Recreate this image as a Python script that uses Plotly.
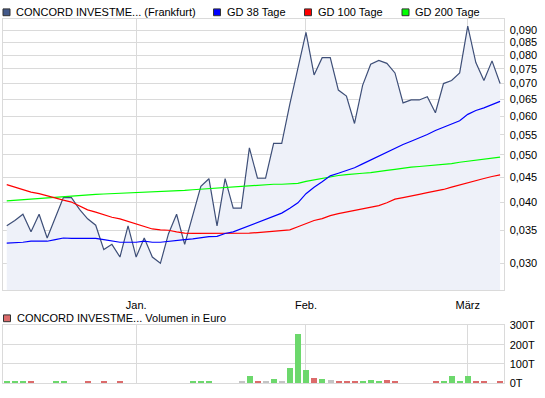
import math
import pandas as pd
import plotly.graph_objects as go

# ---------------- data ----------------
holidays = ["2010-12-24", "2010-12-31"]
dates = [d.strftime("%Y-%m-%d") for d in
         pd.bdate_range("2010-12-08", "2011-03-07", freq="C", holidays=holidays)]

price = [0.0358, 0.0367, 0.0378, 0.0348, 0.0378, 0.0338, 0.0372, 0.0409, 0.0409, 0.0387,
         0.0370, 0.0359, 0.0320, 0.0328, 0.0309, 0.0358, 0.0309, 0.0338, 0.0309, 0.0300,
         0.0345, 0.0378, 0.0328, 0.0378, 0.0431, 0.0447, 0.0358, 0.0447, 0.0389, 0.0389,
         0.0517, 0.0448, 0.0448, 0.0528, 0.0528, 0.0635, 0.0757, 0.0891, 0.0729, 0.0791,
         0.0791, 0.0679, 0.0660, 0.0580, 0.0694, 0.0767, 0.0781, 0.0770, 0.0736, 0.0639,
         0.0648, 0.0648, 0.0658, 0.0610, 0.0700, 0.0710, 0.0736, 0.0918, 0.0773, 0.0710,
         0.0779, 0.0700]

gd38 = [0.03298, 0.03303, 0.03313, 0.03329, 0.03329, 0.03329, 0.03354, 0.03380, 0.03375, 0.03375,
        0.03375, 0.03375, 0.03354, 0.03334, 0.03313, 0.03313, 0.03313, 0.03329, 0.03313, 0.03313,
        0.03329, 0.03344, 0.03354, 0.03365, 0.03385, 0.03401, 0.03406, 0.03453, 0.03479, 0.03533,
        0.03587, 0.03631, 0.03687, 0.03744, 0.03801, 0.03890, 0.03990, 0.04165, 0.04295, 0.04407,
        0.04531, 0.04586, 0.04649, 0.04706, 0.04793, 0.04882, 0.04988, 0.05079, 0.05157, 0.05253,
        0.05334, 0.05416, 0.05507, 0.05609, 0.05695, 0.05774, 0.05872, 0.06054, 0.06166, 0.06241,
        0.06337, 0.06435]

gd100 = [0.04348, 0.04295, 0.04255, 0.04197, 0.04165, 0.04121, 0.04072, 0.04040, 0.04004, 0.03924,
         0.03860, 0.03819, 0.03772, 0.03727, 0.03699, 0.03653, 0.03604, 0.03565, 0.03527, 0.03511,
         0.03506, 0.03479, 0.03458, 0.03453, 0.03453, 0.03453, 0.03453, 0.03453, 0.03453, 0.03453,
         0.03458, 0.03468, 0.03479, 0.03495, 0.03495, 0.03511, 0.03565, 0.03620, 0.03670, 0.03704,
         0.03755, 0.03790, 0.03819, 0.03842, 0.03878, 0.03907, 0.03937, 0.03990, 0.04060, 0.04090,
         0.04128, 0.04153, 0.04185, 0.04211, 0.04249, 0.04295, 0.04341, 0.04394, 0.04428, 0.04475,
         0.04516, 0.04551]

gd200 = [0.04028, 0.04040, 0.04053, 0.04065, 0.04072, 0.04078, 0.04090, 0.04109, 0.04115, 0.04128,
         0.04140, 0.04153, 0.04159, 0.04165, 0.04172, 0.04178, 0.04185, 0.04191, 0.04197, 0.04204,
         0.04211, 0.04223, 0.04230, 0.04243, 0.04255, 0.04269, 0.04282, 0.04295, 0.04308, 0.04321,
         0.04328, 0.04335, 0.04348, 0.04355, 0.04355, 0.04361, 0.04374, 0.04414, 0.04448, 0.04482,
         0.04516, 0.04538, 0.04558, 0.04565, 0.04586, 0.04600, 0.04629, 0.04649, 0.04671, 0.04700,
         0.04721, 0.04735, 0.04750, 0.04765, 0.04787, 0.04801, 0.04830, 0.04852, 0.04874, 0.04904,
         0.04927, 0.04949]

volume = [6000, 6000, 6000, 6000, 0, 0, 6000, 10000, 0, 0,
          6000, 0, 6000, 0, 6000, 0, 0, 0, 0, 0,
          0, 0, 0, 6000, 6000, 10000, 0, 0, 0, 6000,
          35000, 10000, 6000, 20000, 10000, 75000, 255000, 65000, 25000, 20000,
          15000, 10000, 6000, 10000, 6000, 15000, 10000, 15000, 10000, 0,
          0, 0, 0, 6000, 10000, 35000, 6000, 35000, 6000, 6000,
          0, 6000]

# direction of each day's volume bar: g = up, r = down, n = unchanged
vol_dir = ["g", "g", "g", "r", "n", "n", "g", "g", "n", "n",
           "r", "n", "r", "n", "r", "n", "n", "n", "n", "n",
           "n", "n", "n", "g", "g", "g", "n", "n", "n", "n",
           "g", "r", "n", "g", "n", "g", "g", "g", "r", "g",
           "n", "r", "r", "r", "g", "g", "g", "r", "r", "n",
           "n", "n", "n", "r", "g", "g", "g", "g", "r", "r",
           "n", "r"]

month_ticks = ["2011-01-03", "2011-02-01", "2011-03-01"]
month_labels = ["Jan.", "Feb.", "März"]
price_ticks = [0.030, 0.035, 0.040, 0.045, 0.050, 0.055, 0.060, 0.065,
               0.070, 0.075, 0.080, 0.085, 0.090]
vol_ticks = [0, 100000, 200000, 300000]
vol_labels = ["0T", "100T", "200T", "300T"]

names = ["CONCORD INVESTME... (Frankfurt)", "GD 38 Tage", "GD 100 Tage", "GD 200 Tage"]
vol_title = "CONCORD INVESTME... Volumen in Euro"

# ---------------- style ----------------
W, H = 545, 398
FONT = "Liberation Sans, Arial, sans-serif"
GRID = "#dadada"
PRICE_COL = "#3e4f78"
FILL_COL = "#eef1f9"
SQ_COLS = ["#43598a", "#0000ff", "#ff0000", "#00ff00"]
LINE_COLS = [PRICE_COL, "#0000ff", "#ff0000", "#00e600"]
dir_col = {"g": "#6cd86c", "r": "#dc6b6b", "n": "#c4c4c4"}

def px(x):
    return x / W

def py(y):
    return 1 - y / H

fig = go.Figure()

fig.add_trace(go.Scatter(x=dates, y=price, mode="lines", fill="tozeroy",
                         fillcolor=FILL_COL, line=dict(color=PRICE_COL, width=1.2),
                         xaxis="x", yaxis="y", showlegend=False))
fig.add_trace(go.Scatter(x=dates, y=gd200, mode="lines",
                         line=dict(color="#00ff00", width=1.2), xaxis="x", yaxis="y", showlegend=False))
fig.add_trace(go.Scatter(x=dates, y=gd100, mode="lines",
                         line=dict(color="#ff0000", width=1.2), xaxis="x", yaxis="y", showlegend=False))
fig.add_trace(go.Scatter(x=dates, y=gd38, mode="lines",
                         line=dict(color="#0000ff", width=1.2), xaxis="x", yaxis="y", showlegend=False))

fig.add_trace(go.Bar(x=dates, y=volume, marker=dict(color=[dir_col[d] for d in vol_dir], line=dict(width=0)),
                     width=0.74, xaxis="x2", yaxis="y2", showlegend=False))

x_dom = [px(2.7), px(503.5)]
x_range = [-0.5, 61.42]
y_lo, y_hi = -1.5779, -1.0233

axis_common = dict(showline=True, linecolor=GRID, linewidth=1, mirror=True,
                   showgrid=True, gridcolor=GRID, gridwidth=1, zeroline=False)

fig.update_layout(
    width=W, height=H,
    margin=dict(l=0, r=0, t=0, b=0),
    paper_bgcolor="white", plot_bgcolor="white",
    separators=",.",
    font=dict(family=FONT, size=11, color="#000000"),
    bargap=0,
    xaxis=dict(domain=x_dom, type="category", range=x_range,
               tickmode="array", tickvals=month_ticks, ticktext=month_labels,
               ticks="outside", ticklen=5, tickcolor="rgba(0,0,0,0)",
               anchor="y", **axis_common),
    yaxis=dict(domain=[py(293), py(13.7)], type="log", range=[y_lo, y_hi],
               side="right", tickmode="array", tickvals=price_ticks, tickformat=".3f",
               ticks="outside", ticklen=3, tickcolor="rgba(0,0,0,0)",
               anchor="x", **axis_common),
    xaxis2=dict(domain=x_dom, type="category", range=x_range, matches="x",
                tickmode="array", tickvals=month_ticks, showticklabels=False,
                anchor="y2", **axis_common),
    yaxis2=dict(domain=[py(389), py(329.3)], range=[0, 300000], side="right",
                tickmode="array", tickvals=vol_ticks, ticktext=vol_labels,
                ticks="outside", ticklen=3, tickcolor="rgba(0,0,0,0)",
                anchor="x2", **axis_common),
)

# legend rows (squares + text)
sq_x = [3, 213.5, 304.5, 402]
txt_x = [15, 225.5, 316.5, 414]
shapes = []
annos = []
for i in range(4):
    shapes.append(dict(type="rect", xref="paper", yref="paper",
                       x0=px(sq_x[i]), x1=px(sq_x[i] + 7), y0=py(10), y1=py(3),
                       fillcolor=SQ_COLS[i], line=dict(color="#333333", width=1)))
    annos.append(dict(text=names[i], xref="paper", yref="paper", x=px(txt_x[i]), y=py(6.5),
                      xanchor="left", yanchor="middle", showarrow=False,
                      font=dict(family=FONT, size=11, color="#000000"), borderpad=0))
shapes.append(dict(type="rect", xref="paper", yref="paper",
                   x0=px(3.5), x1=px(10.5), y0=py(325.5), y1=py(318.5),
                   fillcolor="#dc6b6b", line=dict(color="#333333", width=1)))
annos.append(dict(text=vol_title, xref="paper", yref="paper", x=px(15.5), y=py(322),
                  xanchor="left", yanchor="middle", showarrow=False,
                  font=dict(family=FONT, size=11, color="#000000"), borderpad=0))

fig.update_layout(shapes=shapes, annotations=annos)

fig.write_html("out.html")
